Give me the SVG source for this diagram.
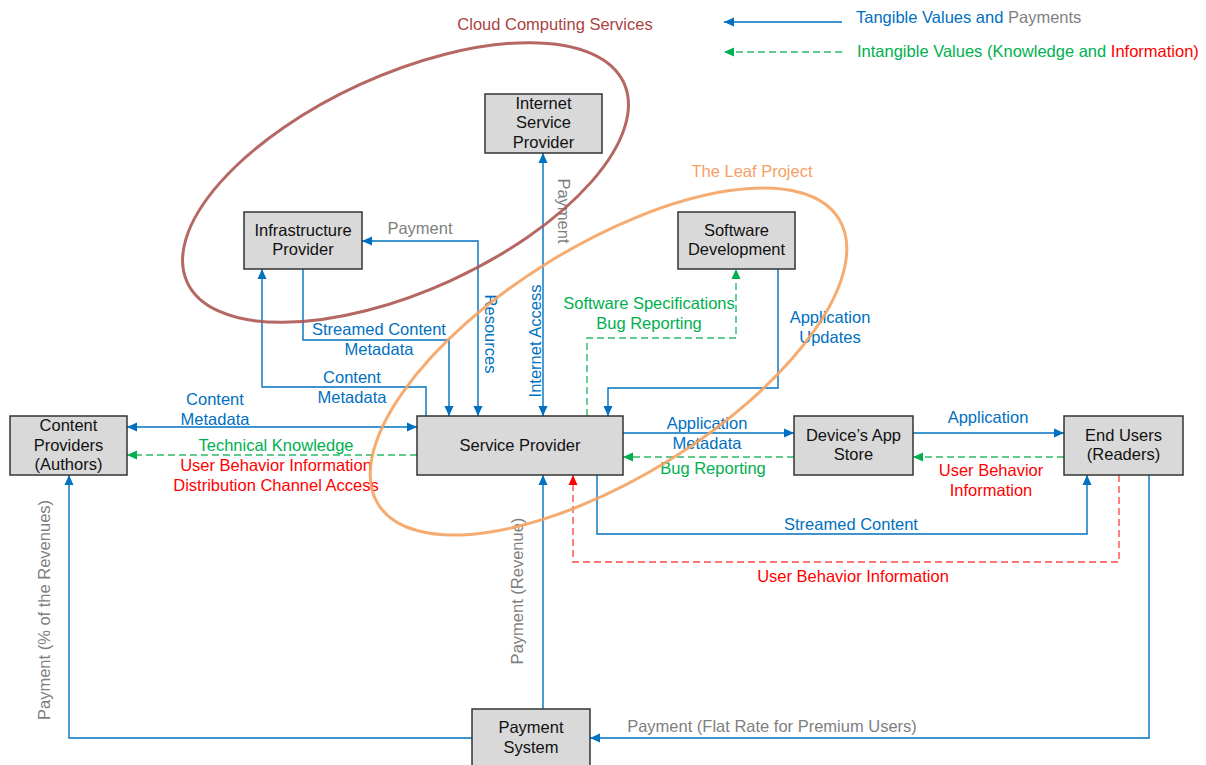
<svg xmlns="http://www.w3.org/2000/svg" width="1206" height="765" viewBox="0 0 1206 765">
<style>
text{font-family:"Liberation Sans",Arial,sans-serif;font-size:16.5px}
.n rect{fill:#D9D9D9;stroke:#333;stroke-width:1.5}
.n text{fill:#111;text-anchor:middle}
.b{fill:#0070C0}.g{fill:#00B050}.r{fill:#FF0000}.y{fill:#7F7F7F}
.c{text-anchor:middle}
.lb{fill:none;stroke:#0070C0;stroke-width:1.4}
.lg{fill:none;stroke:#2DBB66;stroke-width:1.4;stroke-dasharray:7,4}
.lr{fill:none;stroke:#FF4A4A;stroke-width:1.4;stroke-dasharray:7,4}
</style>
<defs>
<marker id="ab" markerUnits="userSpaceOnUse" markerWidth="10" markerHeight="10" refX="10" refY="5" orient="auto-start-reverse"><path d="M0,0.5 L10,5 L0,9.5z" fill="#0070C0"/></marker>
<marker id="ag" markerUnits="userSpaceOnUse" markerWidth="10" markerHeight="10" refX="10" refY="5" orient="auto-start-reverse"><path d="M0,0.5 L10,5 L0,9.5z" fill="#00B050"/></marker>
<marker id="ar" markerUnits="userSpaceOnUse" markerWidth="10" markerHeight="10" refX="10" refY="5" orient="auto-start-reverse"><path d="M0,0.5 L10,5 L0,9.5z" fill="#FF0000"/></marker>
</defs>

<g id="legend">
<path class="lb" d="M842,22 H724" marker-end="url(#ab)"/>
<text x="856" y="23"><tspan class="b">Tangible Values and </tspan><tspan class="y">Payments</tspan></text>
<path class="lg" d="M842,52 H724" marker-end="url(#ag)"/>
<text x="857" y="57"><tspan class="g">Intangible Values (Knowledge and </tspan><tspan class="r">Information)</tspan></text>
</g>

<g id="connectors">
<path class="lb" d="M543,153 V416" marker-start="url(#ab)" marker-end="url(#ab)"/>
<path class="lb" d="M362,241 H478 V416" marker-start="url(#ab)" marker-end="url(#ab)"/>
<path class="lb" d="M303,269 V340 H449 V416" marker-end="url(#ab)"/>
<path class="lb" d="M426,416 V387 H262 V269" marker-end="url(#ab)"/>
<path class="lb" d="M127,427 H417" marker-start="url(#ab)" marker-end="url(#ab)"/>
<path class="lg" d="M417,455 H127" marker-end="url(#ag)"/>
<path class="lg" d="M587,416 V338 H736 V269" marker-end="url(#ag)"/>
<path class="lb" d="M778,269 V388 H608 V416" marker-end="url(#ab)"/>
<path class="lb" d="M620,433 H794" marker-end="url(#ab)"/>
<path class="lg" d="M794,457 H623" marker-end="url(#ag)"/>
<path class="lb" d="M913,433 H1064" marker-end="url(#ab)"/>
<path class="lg" d="M1064,457 H913" marker-end="url(#ag)"/>
<path class="lb" d="M597,475 V534 H1087 V475" marker-end="url(#ab)"/>
<path class="lr" d="M1119,475 V562 H573 V475" marker-end="url(#ar)"/>
<path class="lb" d="M543,709 V475" marker-end="url(#ab)"/>
<path class="lb" d="M472,738 H69 V475" marker-end="url(#ab)"/>
<path class="lb" d="M1149,475 V738 H590" marker-end="url(#ab)"/>

<text class="y c" transform="translate(564,211) rotate(90)" y="6">Payment</text>
<text class="b c" transform="translate(491,334) rotate(90)" y="6">Resources</text>
<text class="b c" transform="translate(535,341) rotate(-90)" y="6">Internet Access</text>
<text class="y c" transform="translate(517,591) rotate(-90)" y="6">Payment (Revenue)</text>
<text class="y c" transform="translate(44,610) rotate(-90)" y="6">Payment (% of the Revenues)</text>

<text class="y c" x="420" y="234">Payment</text>
<text class="b c" x="379" y="335">Streamed Content</text>
<text class="b c" x="379" y="355">Metadata</text>
<text class="b c" x="352" y="383">Content</text>
<text class="b c" x="352" y="403">Metadata</text>
<text class="b c" x="215" y="405">Content</text>
<text class="b c" x="215" y="425">Metadata</text>
<text class="g c" x="276" y="451">Technical Knowledge</text>
<text class="r c" x="276" y="471">User Behavior Information</text>
<text class="r c" x="276" y="491">Distribution Channel Access</text>
<text class="g c" x="649" y="309">Software Specifications</text>
<text class="g c" x="649" y="329">Bug Reporting</text>
<text class="b c" x="830" y="323">Application</text>
<text class="b c" x="830" y="343">Updates</text>
<text class="b c" x="707" y="429">Application</text>
<text class="b c" x="707" y="449">Metadata</text>
<text class="g c" x="713" y="474">Bug Reporting</text>
<text class="b c" x="988" y="423">Application</text>
<text class="r c" x="991" y="476">User Behavior</text>
<text class="r c" x="991" y="496">Information</text>
<text class="b c" x="851" y="530">Streamed Content</text>
<text class="r c" x="853" y="582">User Behavior Information</text>
<text class="y c" x="772" y="732">Payment (Flat Rate for Premium Users)</text>
</g>

<g id="cloud-computing-services">
<ellipse cx="405.5" cy="182.5" rx="240" ry="108" transform="rotate(-24.5 405.5 182.5)" fill="none" stroke="#AD5652" stroke-width="3" opacity="0.9"/>
<text x="555" y="30" class="c" fill="#A9443F">Cloud Computing Services</text>
</g>
<g id="the-leaf-project">
<ellipse cx="608.5" cy="361.5" rx="271" ry="116" transform="rotate(-31.8 608.5 361.5)" fill="none" stroke="#F5A261" stroke-width="3" opacity="0.9"/>
<text x="752" y="177" class="c" fill="#F4A066">The Leaf Project</text>
</g>

<g id="isp" class="n"><rect x="485" y="94" width="117" height="59"/><text x="543.5" y="109">Internet</text><text x="543.5" y="128">Service</text><text x="543.5" y="148">Provider</text></g>
<g id="infrastructure-provider" class="n"><rect x="244" y="212" width="118" height="57"/><text x="303" y="236">Infrastructure</text><text x="303" y="255">Provider</text></g>
<g id="software-development" class="n"><rect x="678" y="212" width="117" height="57"/><text x="736.5" y="236">Software</text><text x="736.5" y="255">Development</text></g>
<g id="content-providers" class="n"><rect x="10" y="416" width="117" height="59"/><text x="68.5" y="431">Content</text><text x="68.5" y="451">Providers</text><text x="68.5" y="470">(Authors)</text></g>
<g id="service-provider" class="n"><rect x="417" y="416" width="206" height="59"/><text x="520" y="451">Service Provider</text></g>
<g id="app-store" class="n"><rect x="794" y="416" width="119" height="59"/><text x="853.5" y="441">Device’s App</text><text x="853.5" y="460">Store</text></g>
<g id="end-users" class="n"><rect x="1064" y="416" width="119" height="59"/><text x="1123.5" y="441">End Users</text><text x="1123.5" y="460">(Readers)</text></g>
<g id="payment-system" class="n"><rect x="472" y="709" width="118" height="70"/><text x="531" y="733">Payment</text><text x="531" y="753">System</text></g>
</svg>
